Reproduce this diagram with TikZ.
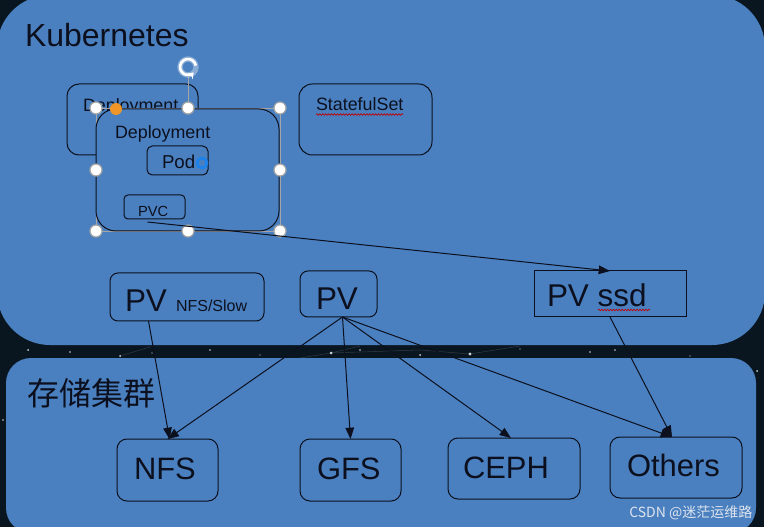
\documentclass[tikz,border=0pt]{standalone}
\usepackage{fontspec}
\setmainfont{Liberation Sans}
\newfontfamily\cjk{Noto Sans CJK SC}
\usetikzlibrary{arrows.meta,calc,decorations.pathmorphing}
\definecolor{panel}{RGB}{74,128,192}
\definecolor{darkbg}{RGB}{9,22,32}
\definecolor{ink}{RGB}{12,16,30}
\definecolor{handlegray}{RGB}{165,165,165}
\definecolor{selorange}{RGB}{240,150,40}
\definecolor{ringblue}{RGB}{30,130,235}
\definecolor{wmark}{RGB}{222,228,238}
\begin{document}
\begin{tikzpicture}[x=0.75pt,y=-0.75pt,
  bx/.style 2 args={draw=ink, line width=0.75pt, inner sep=0pt, outer sep=0pt,
     minimum width=#1*0.75pt, minimum height=#2*0.75pt},
  txt/.style={inner sep=0pt, outer sep=0pt, anchor=base west, text=ink},
  handle/.style={circle, fill=white, draw=handlegray, line width=0.9pt, minimum size=9pt, inner sep=0pt},
  arr/.style={draw=ink, line width=0.75pt, -{Triangle[length=8.5pt,width=6.5pt]}},
  wavy/.style={draw=red!75!black, line width=0.5pt, decorate, decoration={snake, amplitude=0.6pt, segment length=2.2pt}},
  star/.style={fill=white, opacity=0.8}
]
\useasboundingbox (0,0) rectangle (764,527);
\fill[darkbg] (0,0) rectangle (764,527);
% star band
\foreach \sx/\sy/\sr in {28/350/1, 70/352/0.8, 120/356/1, 152/353/0.7, 210/350/0.8, 260/355/0.6, 331/353/1.5, 360/350/0.8, 420/355/1, 470/354/1.6, 520/349/0.7, 590/352/0.9, 615/350/0.8, 690/356/0.7, 757/371/1, 3/420/0.8}
  \fill[star] (\sx,\sy) circle[radius=\sr];
\draw[white, opacity=0.15, line width=0.4pt] (300,358) -- (331,353) -- (360,346) (331,353) -- (420,350) -- (470,354) -- (520,346) (120,356) -- (150,347);
% panels
\fill[panel, rounded corners=39.75pt] (-3,-5) rectangle (765,345);
\fill[panel, rounded corners=18.75pt] (6,358) rectangle (756,533);

% titles
\node[txt, font=\fontsize{24}{28}\selectfont] (k8s) at (25,47) {Kubernetes};
\node[txt, font=\cjk\fontsize{24}{28}\selectfont] (store) at (27,405) {存储集群};

% back deployment
\node[bx={131}{71}, rounded corners=9pt] (dep1) at (132.5,119.5) {};
\node[txt, font=\fontsize{13.4}{16}\selectfont] (dep1t) at (83,112) {Deployment};
% selection frame
\draw[handlegray, line width=0.6pt] (96,108) rectangle (280,231);
\draw[handlegray, line width=0.6pt] (188,77) -- (188,108);
% front deployment
\node[bx={183}{122}, rounded corners=15pt, fill=panel] (dep2) at (187.5,170) {};
\draw[handlegray, line width=0.6pt] (96,108) -- (100,108) (96,108) -- (96,112);
\node[txt, font=\fontsize{13.4}{16}\selectfont] (dep2t) at (115,139) {Deployment};
\node[bx={61}{29}, rounded corners=4pt] (pod) at (177.5,160.5) {};
\node[txt, font=\fontsize{14}{16}\selectfont] (podt) at (162,169) {Pod};
\node[bx={61}{24}, rounded corners=3pt] (pvc) at (154.5,207) {};
\node[txt, font=\fontsize{11}{13}\selectfont] (pvct) at (138,217) {PVC};
\draw[ringblue, line width=2pt] (202,163) circle[radius=5];
% handles
\foreach \hx/\hy [count=\i] in {96/108, 188/108, 280/108, 96/170, 280/170, 96/231, 188/231, 280/231}
  \node[handle] (h\i) at (\hx,\hy) {};
\fill[selorange] (116,109) circle[radius=6];
\draw[white, opacity=0.35, line width=4pt] (188,67) circle[radius=8];
\draw[white, line width=2pt, -{Stealth[length=4pt,width=6pt]}] (188,67) ++(-10:8) arc[start angle=-10, end angle=-315, radius=8];

% statefulset
\node[bx={133}{71}, rounded corners=10pt] (sts) at (365.5,119.5) {};
\node[txt, font=\fontsize{13.4}{16}\selectfont] (stst) at (316,111) {StatefulSet};
\draw[wavy] (316,114.5) -- (403,114.5);

% PVs
\node[bx={154}{48}, rounded corners=6pt] (pvnfs) at (187,297) {};
\node[txt, font=\fontsize{23.6}{28}\selectfont] (pvnfst) at (125,312) {PV};
\node[txt, font=\fontsize{12}{14}\selectfont] (pvnfss) at (176,312) {NFS/Slow};
\node[bx={77}{46}, rounded corners=6pt] (pv) at (338.5,294) {};
\node[txt, font=\fontsize{23.6}{28}\selectfont] (pvt) at (316,310) {PV};
\node[bx={152}{46}] (pvssd) at (610,294) {};
\node[txt, font=\fontsize{23.6}{28}\selectfont] (pvssdt) at (547,307) {PV ssd};
\draw[wavy] (598,310) -- (650,310);

% storage backends
\node[bx={101}{62}, rounded corners=7.5pt] (nfs) at (167.5,470) {};
\node[txt, font=\fontsize{23.2}{28}\selectfont] (nfst) at (134,479) {NFS};
\node[bx={101}{62}, rounded corners=7.5pt] (gfs) at (350.5,470) {};
\node[txt, font=\fontsize{23.2}{28}\selectfont] (gfst) at (317,479) {GFS};
\node[bx={132}{61}, rounded corners=7.5pt] (ceph) at (514,468.5) {};
\node[txt, font=\fontsize{23.2}{28}\selectfont] (cepht) at (463,478) {CEPH};
\node[bx={132}{61}, rounded corners=7.5pt] (others) at (676,467.5) {};
\node[txt, font=\fontsize{23.2}{28}\selectfont] (otherst) at (627,476) {Others};

% connectors
\coordinate (pvcout) at ($(pvc.south)+(-7,3)$);
\draw[arr] (pvcout) -- (pvssd.north);
\draw[arr] ($(pvnfs.south west)!0.25!(pvnfs.south east)$) -- ($(nfs.north)+(2,0)$);
\coordinate (pvout) at ($(pv.south)+(4,0)$);
\draw[arr] (pvout) -- (nfs.north);
\draw[arr] (pvout) -- (gfs.north);
\draw[arr] (pvout) -- ($(ceph.north)+(-3,0)$);
\draw[arr] (pvout) -- ($(others.north)+(-4,0)$);
\draw[arr] (pvssd.south) -- ($(others.north)+(-4,0)$);

% watermark
\node[inner sep=0pt, anchor=base west, text=wmark, font=\cjk\fontsize{10.5}{12}\selectfont] (wm) at (629,517) {CSDN @迷茫运维路};
\end{tikzpicture}
\end{document}
